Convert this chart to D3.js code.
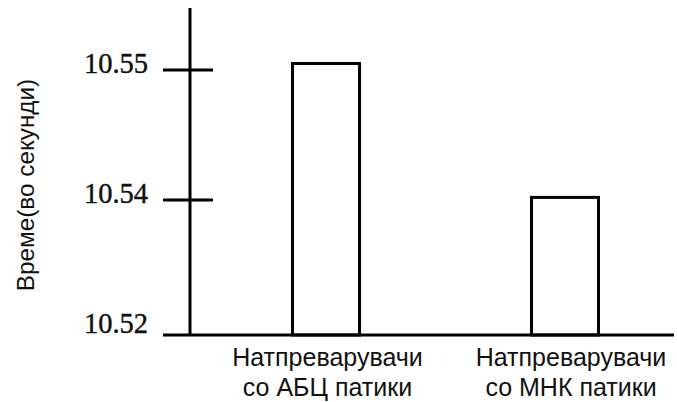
<!DOCTYPE html>
<html>
<head>
<meta charset="utf-8">
<script src="https://cdn.jsdelivr.net/npm/d3@7"></script>
<style>
  body { margin: 0; background: #fff; }
</style>
</head>
<body>
<svg id="chart" width="677" height="402"></svg>
<script>
const categories = [
  ["Натпреварувачи", "со АБЦ патики"],
  ["Натпреварувачи", "со МНК патики"]
];
const times = [10.5505, 10.5402];
const tickValues = [10.52, 10.54, 10.55];
const yTitle = "Време(во секунди)";

const svg = d3.select("#chart");

// the original axis is not evenly spaced, so piecewise scale
const y = d3.scaleLinear()
  .domain([10.52, 10.54, 10.55])
  .range([335, 200, 70]);

const x = d3.scalePoint()
  .domain(d3.range(categories.length))
  .range([326, 565]);

const barW = 67;

// bars
svg.selectAll("rect.bar").data(times)
  .enter().append("rect")
  .attr("class", "bar")
  .attr("x", (d, i) => x(i) - barW / 2)
  .attr("y", d => y(d))
  .attr("width", barW)
  .attr("height", d => y(10.52) - y(d))
  .attr("fill", "#fff")
  .attr("stroke", "#000")
  .attr("stroke-width", 3);

// y axis line
svg.append("line")
  .attr("x1", 190).attr("x2", 190)
  .attr("y1", 8).attr("y2", y(10.52))
  .attr("stroke", "#000").attr("stroke-width", 3);

// x axis line
svg.append("line")
  .attr("x1", 163).attr("x2", 674)
  .attr("y1", y(10.52)).attr("y2", y(10.52))
  .attr("stroke", "#000").attr("stroke-width", 3);

// ticks
const ticks = svg.selectAll("g.tick").data(tickValues)
  .enter().append("g")
  .attr("class", "tick")
  .attr("transform", d => "translate(0," + y(d) + ")");

ticks.filter(d => d !== 10.52).append("line")
  .attr("x1", 163).attr("x2", 213)
  .attr("stroke", "#000").attr("stroke-width", 3);

ticks.append("text")
  .attr("x", 148)
  .attr("y", d => d === 10.52 ? -2 : 3)
  .attr("text-anchor", "end")
  .attr("font-family", "Liberation Serif")
  .attr("font-size", 28.5)
  .attr("fill", "#111")
  .attr("stroke", "#111")
  .attr("stroke-width", 0.4)
  .text(d => d.toFixed(2));

// y title
svg.append("text")
  .attr("transform", "translate(34,185) rotate(-90)")
  .attr("text-anchor", "middle")
  .attr("font-family", "Liberation Sans")
  .attr("font-size", 24.3)
  .attr("fill", "#111")
  .text(yTitle);

// category labels
const lab = svg.selectAll("text.cat").data(categories)
  .enter().append("text")
  .attr("class", "cat")
  .attr("text-anchor", "middle")
  .attr("font-family", "Liberation Sans")
  .attr("font-size", 25)
  .attr("fill", "#111");

lab.selectAll("tspan").data((d, i) => d.map(t => ({t, i})))
  .enter().append("tspan")
  .attr("x", d => x(d.i) + (d.i === 0 ? 1.5 : 6))
  .attr("y", (d, j) => 366 + j * 30)
  .text(d => d.t);
</script>
</body>
</html>
